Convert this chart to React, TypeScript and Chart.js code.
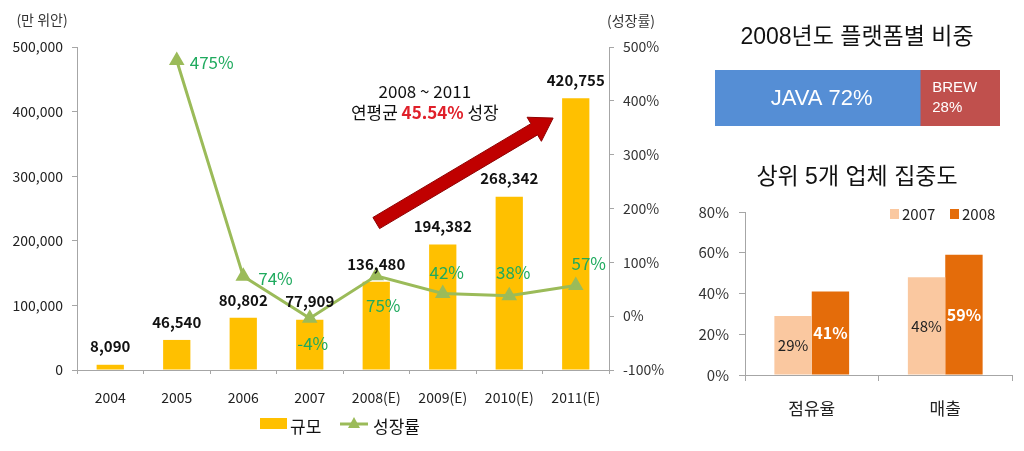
import React, { useEffect, useRef } from 'react';
import { Chart, registerables } from 'chart.js';

Chart.register(...registerables);

const KR = '"Noto Sans CJK KR", "Noto Sans", sans-serif';
const LAT = '"Liberation Sans", Arial, "Noto Sans CJK KR", sans-serif';

// ---- main chart data ----
const years = ['2004', '2005', '2006', '2007', '2008(E)', '2009(E)', '2010(E)', '2011(E)'];
const marketSize = [8090, 46540, 80802, 77909, 136480, 194382, 268342, 420755];
const growthRate: (number | null)[] = [null, 475, 74, -4, 75, 42, 38, 57];
const sizeAxisTitle = '(만 위안)';
const growthAxisTitle = '(성장률)';
const seriesNames = ['규모', '성장률'];
const annotationLine1 = '2008 ~ 2011';
const annotationLine2 = ['연평균 ', '45.54%', ' 성장'];

// ---- platform share ----
const platformTitle = '2008년도 플랫폼별 비중';
const platformNames = ['JAVA', 'BREW'];
const platformShare = [72, 28];

// ---- concentration ----
const concTitle = '상위 5개 업체 집중도';
const concCategories = ['점유율', '매출'];
const concYears = ['2007', '2008'];
const conc2007 = [29, 48];
const conc2008 = [41, 59];

// styles / placements (not data)
const BAR_COLOR = '#FFC000';
const LINE_COLOR = '#9BBB59';
const GROWTH_LABEL_COLOR = '#1FAA5E';
const AXIS_COLOR = '#A6A6A6';
const platformColors = ['#558ED5', '#C0504D'];
const concColors = ['#FAC8A0', '#E46C0A'];
const growthLabelPlacement = [
  null,
  { dx: 13, dy: 2, align: 'left' },
  { dx: 15, dy: 2, align: 'left' },
  { dx: 3, dy: 25, align: 'center' },
  { dx: 7, dy: 30, align: 'center' },
  { dx: 4, dy: -21, align: 'center' },
  { dx: 4, dy: -23, align: 'center' },
  { dx: 13, dy: -22, align: 'center' },
];
const arrowFrom = [4.0, 227500];
const arrowTo = [6.66, 390000];
const annotationAnchor = [4.73, 431000];

function MainChart() {
  const ref = useRef<HTMLCanvasElement>(null);
  useEffect(() => {
    const overlay = {
      id: 'mainOverlay',
      afterDatasetsDraw(chart: any) {
        const ctx = chart.ctx as CanvasRenderingContext2D;
        const xs = chart.scales.x;
        const ys = chart.scales.y;
        ctx.save();
        // arrow
        const p0 = { x: xs.getPixelForValue(arrowFrom[0]), y: ys.getPixelForValue(arrowFrom[1]) };
        const p1 = { x: xs.getPixelForValue(arrowTo[0]), y: ys.getPixelForValue(arrowTo[1]) };
        const dx = p1.x - p0.x, dy = p1.y - p0.y;
        const len = Math.hypot(dx, dy);
        const ux = dx / len, uy = dy / len;
        const nx = -uy, ny = ux;
        const headLen = 22, headW = 14, shaftW = 6.5;
        const bx = p1.x - ux * headLen, by = p1.y - uy * headLen;
        ctx.beginPath();
        ctx.moveTo(p0.x + nx * shaftW, p0.y + ny * shaftW);
        ctx.lineTo(bx + nx * shaftW, by + ny * shaftW);
        ctx.lineTo(bx + nx * headW, by + ny * headW);
        ctx.lineTo(p1.x, p1.y);
        ctx.lineTo(bx - nx * headW, by - ny * headW);
        ctx.lineTo(bx - nx * shaftW, by - ny * shaftW);
        ctx.lineTo(p0.x - nx * shaftW, p0.y - ny * shaftW);
        ctx.closePath();
        ctx.fillStyle = '#C00000';
        ctx.fill();
        ctx.strokeStyle = '#8E0000';
        ctx.lineWidth = 1;
        ctx.stroke();

        // annotation text
        const ax = xs.getPixelForValue(annotationAnchor[0]);
        const ay = ys.getPixelForValue(annotationAnchor[1]);
        ctx.textBaseline = 'middle';
        ctx.textAlign = 'center';
        ctx.fillStyle = '#111';
        ctx.font = `17px ${KR}`;
        ctx.fillText(annotationLine1, ax, ay);
        const fonts = [`17px ${KR}`, `bold 17px ${KR}`, `17px ${KR}`];
        const colors = ['#111', '#E0202A', '#111'];
        const widths = annotationLine2.map((t, i) => { ctx.font = fonts[i]; return ctx.measureText(t).width; });
        let cx = ax - widths.reduce((a, b) => a + b, 0) / 2;
        ctx.textAlign = 'left';
        annotationLine2.forEach((t, i) => {
          ctx.font = fonts[i];
          ctx.fillStyle = colors[i];
          ctx.fillText(t, cx, ay + 21);
          cx += widths[i];
        });

        // bar labels
        const barMeta = chart.getDatasetMeta(0);
        ctx.font = `bold 15px ${KR}`;
        ctx.fillStyle = '#111';
        ctx.textAlign = 'center';
        barMeta.data.forEach((el: any, i: number) => {
          ctx.fillText(marketSize[i].toLocaleString('en-US'), el.x, el.y - 18);
        });

        // growth labels
        const lineMeta = chart.getDatasetMeta(1);
        ctx.font = `17px ${KR}`;
        ctx.fillStyle = GROWTH_LABEL_COLOR;
        lineMeta.data.forEach((el: any, i: number) => {
          const v = growthRate[i];
          const pl = growthLabelPlacement[i];
          if (v === null || !pl) return;
          ctx.textAlign = pl.align as CanvasTextAlign;
          ctx.fillText(`${v}%`, el.x + pl.dx, el.y + pl.dy);
        });

        // axis titles
        ctx.font = `14px ${KR}`;
        ctx.fillStyle = '#333';
        ctx.textAlign = 'center';
        ctx.fillText(sizeAxisTitle, 42, 20);
        ctx.fillText(growthAxisTitle, 631, 21);

        // legend
        const ly = 427;
        ctx.fillStyle = BAR_COLOR;
        ctx.fillRect(260, ly - 9, 27, 11);
        ctx.fillStyle = '#111';
        ctx.font = `17px ${KR}`;
        ctx.textAlign = 'left';
        ctx.fillText(seriesNames[0], 290, ly);
        ctx.strokeStyle = LINE_COLOR;
        ctx.lineWidth = 3;
        ctx.beginPath();
        ctx.moveTo(340, ly - 3);
        ctx.lineTo(368, ly - 3);
        ctx.stroke();
        ctx.fillStyle = LINE_COLOR;
        ctx.beginPath();
        ctx.moveTo(354, ly - 10);
        ctx.lineTo(360, ly + 1);
        ctx.lineTo(348, ly + 1);
        ctx.closePath();
        ctx.fill();
        ctx.fillStyle = '#111';
        ctx.fillText(seriesNames[1], 373, ly);
        ctx.restore();
      },
    };

    const chart = new Chart(ref.current!, {
      type: 'bar',
      data: {
        labels: years,
        datasets: [
          {
            type: 'bar',
            label: seriesNames[0],
            data: marketSize,
            backgroundColor: BAR_COLOR,
            yAxisID: 'y',
            categoryPercentage: 0.41,
            barPercentage: 1,
            order: 2,
          } as any,
          {
            type: 'line',
            label: seriesNames[1],
            data: growthRate,
            yAxisID: 'y1',
            borderColor: LINE_COLOR,
            backgroundColor: LINE_COLOR,
            borderWidth: 3,
            pointStyle: 'triangle',
            pointRadius: 6,
            pointHoverRadius: 6,
            pointBackgroundColor: LINE_COLOR,
            pointBorderColor: LINE_COLOR,
            tension: 0,
            order: 1,
          } as any,
        ],
      },
      options: {
        responsive: false,
        animation: false,
        devicePixelRatio: 1,
        layout: { padding: { top: 47, left: 0, right: 0, bottom: 31 } },
        plugins: { legend: { display: false }, tooltip: { enabled: false } },
        scales: {
          x: {
            offset: true,
            grid: { offset: true, drawOnChartArea: false, drawTicks: true, tickLength: 4, color: AXIS_COLOR },
            border: { color: AXIS_COLOR },
            ticks: { font: { size: 14, family: KR }, color: '#222', padding: 15 },
            afterFit: (s: any) => { s.height = 50; },
          },
          y: {
            position: 'left',
            min: 0,
            max: 500000,
            ticks: {
              stepSize: 100000,
              callback: (v: any) => Number(v).toLocaleString('en-US'),
              font: { size: 14, family: KR },
              color: '#222',
              padding: 9,
            },
            grid: { drawOnChartArea: false, tickLength: 5, color: AXIS_COLOR },
            border: { color: AXIS_COLOR },
            afterFit: (s: any) => { s.width = 77; },
          },
          y1: {
            position: 'right',
            min: -100,
            max: 500,
            ticks: {
              stepSize: 100,
              callback: (v: any) => `${v}%`,
              font: { size: 14, family: KR },
              color: '#333',
              padding: 9,
            },
            grid: { drawOnChartArea: false, tickLength: 5, color: AXIS_COLOR },
            border: { color: AXIS_COLOR },
            afterFit: (s: any) => { s.width = 71; },
          },
        },
      } as any,
      plugins: [overlay],
    });
    return () => chart.destroy();
  }, []);
  return <canvas ref={ref} width={680} height={451} style={{ position: 'absolute', left: 0, top: 0 }} />;
}

function PlatformChart() {
  const ref = useRef<HTMLCanvasElement>(null);
  useEffect(() => {
    const overlay = {
      id: 'platformOverlay',
      afterDatasetsDraw(chart: any) {
        const ctx = chart.ctx as CanvasRenderingContext2D;
        ctx.save();
        ctx.textBaseline = 'middle';
        ctx.textAlign = 'center';
        ctx.fillStyle = '#111';
        ctx.font = `23px ${LAT}`;
        ctx.fillText(platformTitle, 167, 38);
        const m0 = chart.getDatasetMeta(0).data[0];
        const m1 = chart.getDatasetMeta(1).data[0];
        ctx.fillStyle = '#fff';
        ctx.font = `22px ${LAT}`;
        ctx.fillText(`${platformNames[0]} ${platformShare[0]}%`, (m0.base + m0.x) / 2 + 4, m0.y + 1);
        ctx.font = `15px ${LAT}`;
        ctx.textAlign = 'left';
        ctx.fillText(platformNames[1], m1.base + 12, m1.y - 10);
        ctx.fillText(`${platformShare[1]}%`, m1.base + 12, m1.y + 10);
        ctx.restore();
      },
    };
    const chart = new Chart(ref.current!, {
      type: 'bar',
      data: {
        labels: [''],
        datasets: platformNames.map((n, i) => ({
          label: n,
          data: [platformShare[i]],
          backgroundColor: platformColors[i],
          barPercentage: 1,
          categoryPercentage: 1,
          borderWidth: 0,
        })),
      },
      options: {
        indexAxis: 'y',
        responsive: false,
        animation: false,
        devicePixelRatio: 1,
        layout: { padding: { left: 25, right: 24, top: 70, bottom: 14 } },
        plugins: { legend: { display: false }, tooltip: { enabled: false } },
        scales: {
          x: { stacked: true, display: false, min: 0, max: 100 },
          y: { stacked: true, display: false },
        },
      } as any,
      plugins: [overlay],
    });
    return () => chart.destroy();
  }, []);
  return <canvas ref={ref} width={334} height={140} style={{ position: 'absolute', left: 690, top: 0 }} />;
}

function ConcChart() {
  const ref = useRef<HTMLCanvasElement>(null);
  useEffect(() => {
    const overlay = {
      id: 'concOverlay',
      afterDatasetsDraw(chart: any) {
        const ctx = chart.ctx as CanvasRenderingContext2D;
        ctx.save();
        ctx.textBaseline = 'middle';
        ctx.textAlign = 'center';
        ctx.fillStyle = '#111';
        ctx.font = `23px ${LAT}`;
        ctx.fillText(concTitle, 167, 38);
        // value labels
        const series = [conc2007, conc2008];
        series.forEach((vals, di) => {
          const meta = chart.getDatasetMeta(di);
          ctx.font = di === 0 ? `15px ${KR}` : `bold 16px ${KR}`;
          ctx.fillStyle = di === 0 ? '#222' : '#fff';
          meta.data.forEach((el: any, i: number) => {
            ctx.fillText(`${vals[i]}%`, el.x, (el.y + el.base) / 2);
          });
        });
        // legend
        const ly = 74;
        const lx = [200, 260];
        concYears.forEach((yr, i) => {
          ctx.fillStyle = concColors[i];
          ctx.fillRect(lx[i], ly - 5, 9, 10);
          ctx.fillStyle = '#222';
          ctx.font = `15px ${KR}`;
          ctx.textAlign = 'left';
          ctx.fillText(yr, lx[i] + 12, ly);
        });
        ctx.restore();
      },
    };
    const chart = new Chart(ref.current!, {
      type: 'bar',
      data: {
        labels: concCategories,
        datasets: [
          { label: concYears[0], data: conc2007, backgroundColor: concColors[0], barPercentage: 1, categoryPercentage: 0.56 },
          { label: concYears[1], data: conc2008, backgroundColor: concColors[1], barPercentage: 1, categoryPercentage: 0.56 },
        ],
      },
      options: {
        responsive: false,
        animation: false,
        devicePixelRatio: 1,
        layout: { padding: { left: 0, right: 12, top: 72, bottom: 16 } },
        plugins: { legend: { display: false }, tooltip: { enabled: false } },
        scales: {
          x: {
            grid: { offset: true, drawOnChartArea: false, tickLength: 6, color: AXIS_COLOR },
            border: { color: AXIS_COLOR },
            ticks: { font: { size: 17, family: KR }, color: '#222', padding: 17 },
            afterFit: (s: any) => { s.height = 60; },
          },
          y: {
            min: 0,
            max: 80,
            ticks: {
              stepSize: 20,
              callback: (v: any) => `${v}%`,
              font: { size: 15, family: KR },
              color: '#333',
              padding: 10,
            },
            grid: { drawOnChartArea: false, tickLength: 6, color: AXIS_COLOR },
            border: { color: AXIS_COLOR },
            afterFit: (s: any) => { s.width = 55; },
          },
        },
      } as any,
      plugins: [overlay],
    });
    return () => chart.destroy();
  }, []);
  return <canvas ref={ref} width={334} height={311} style={{ position: 'absolute', left: 690, top: 140 }} />;
}

export default function App() {
  return (
    <div style={{ position: 'absolute', left: 0, top: 0, width: 1024, height: 451, background: '#fff', overflow: 'hidden' }}>
      <MainChart />
      <PlatformChart />
      <ConcChart />
    </div>
  );
}
